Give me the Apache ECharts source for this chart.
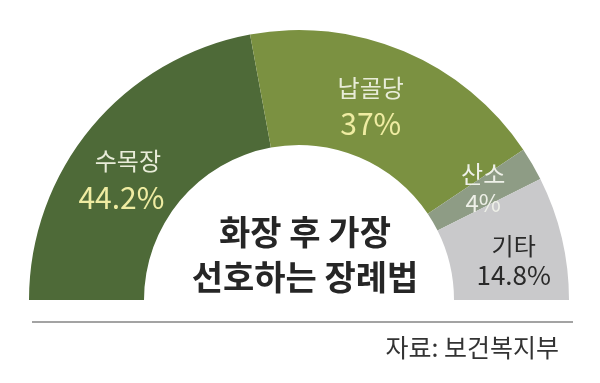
<!DOCTYPE html>
<html>
<head>
<meta charset="utf-8">
<script src="https://cdn.jsdelivr.net/npm/echarts@6/dist/echarts.min.js"></script>
<style>
html,body{margin:0;padding:0;background:#fff;}
#c{width:600px;height:383px;}
</style>
</head>
<body>
<div id="c"></div>
<script>
var categories = ['수목장', '납골당', '산소', '기타'];
var values = [44.2, 37, 4, 14.8];
var valueLabels = ['44.2%', '37%', '4%', '14.8%'];
var titleLines = ['화장 후 가장', '선호하는 장례법'];
var sourceText = '자료: 보건복지부';

var colors = ['#4e6a38', '#7b9141', '#8e9c85', '#c9c9cb'];
var nameColors = ['#e8ecd8', '#e8ecd8', '#eef0e8', '#2a2a2a'];
var valColors = ['#efeca2', '#efeca2', '#eef0e8', '#2a2a2a'];
var valSizes = [30, 30, 24, 26];
var namePadLeft = [13, 0, 0, 0];
var labelOffsets = [[-12, 17], [-12, 4], [-2, -3], [5, 10]];
var FONT = '"Noto Sans CJK KR", "Noto Sans", sans-serif';

var rich = {};
categories.forEach(function (c, i) {
  rich['n' + i] = { fontSize: 24, fontFamily: FONT, color: nameColors[i], lineHeight: i < 2 ? 36 : 29, align: 'center', padding: [0, 0, 0, namePadLeft[i]] };
  rich['v' + i] = { fontSize: valSizes[i], fontFamily: FONT, color: valColors[i], lineHeight: i < 2 ? 36 : 29, align: 'center' };
});

var data = categories.map(function (c, i) {
  return { name: c, value: values[i], itemStyle: { color: colors[i] } };
});

var chart = echarts.init(document.getElementById('c'), null, { renderer: 'canvas' });
chart.setOption({
  animation: false,
  backgroundColor: '#ffffff',
  title: [
    {
      text: titleLines.join('\n'),
      left: 300,
      top: 205,
      textAlign: 'center',
      textStyle: { fontSize: 34, fontWeight: 'bold', fontFamily: FONT, color: '#262626', lineHeight: 45, align: 'center' }
    },
    {
      text: sourceText,
      right: 36,
      top: 330,
      textStyle: { fontSize: 25, fontWeight: 400, fontFamily: FONT, color: '#333' }
    }
  ],
  graphic: [
    { type: 'line', shape: { x1: 32, y1: 322, x2: 573, y2: 322 }, style: { stroke: '#a3a3a3', lineWidth: 2 } }
  ],
  series: [{
    type: 'pie',
    center: [299, 300],
    radius: [155, 270],
    startAngle: 180,
    endAngle: 0,
    clockwise: true,
    avoidLabelOverlap: false,
    silent: true,
    data: data,
    itemStyle: { borderWidth: 0 },
    label: {
      show: true,
      position: 'inside',
      align: 'center',
      formatter: function (p) {
        var i = p.dataIndex;
        return '{n' + i + '|' + p.name + '}\n{v' + i + '|' + valueLabels[i] + '}';
      },
      rich: rich
    },
    labelLine: { show: false },
    labelLayout: function (params) {
      var o = labelOffsets[params.dataIndex];
      return { dx: o[0], dy: o[1] };
    },
    emphasis: { disabled: true }
  }]
});
</script>
</body>
</html>
